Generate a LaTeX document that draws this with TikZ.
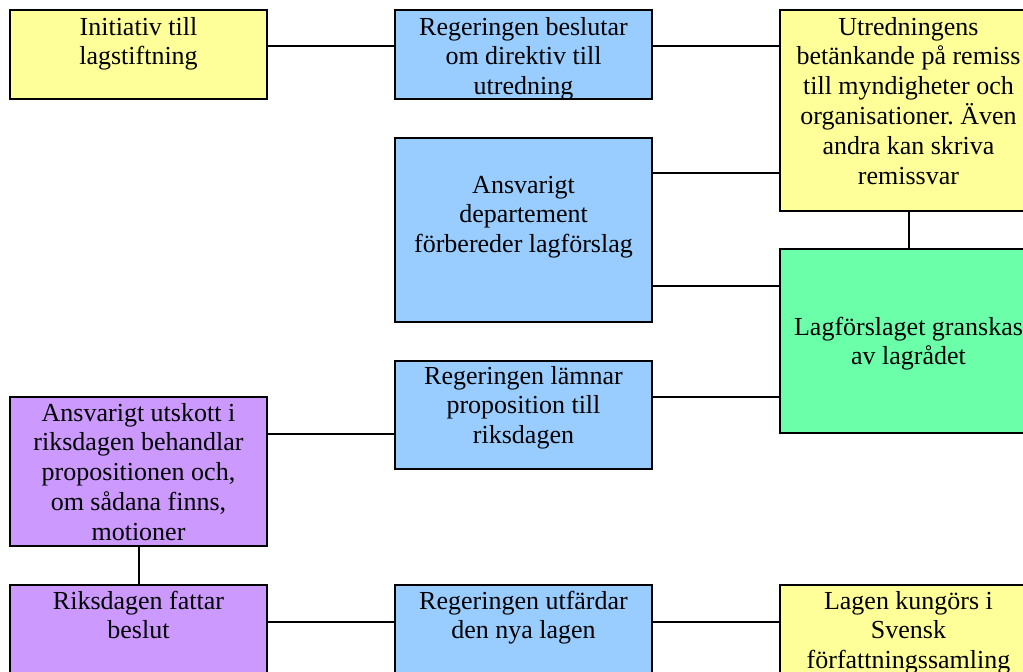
\documentclass[tikz,border=0pt]{standalone}
\usepackage{fontspec}
\setmainfont{Liberation Serif}
\frenchspacing
\definecolor{yel}{HTML}{FFFF99}
\definecolor{blu}{HTML}{99CCFF}
\definecolor{grn}{HTML}{6BFFAA}
\definecolor{pur}{HTML}{CC99FF}
\begin{document}
\begin{tikzpicture}[x=1pt,y=1pt,
  box/.style={draw=black, line width=2pt, minimum width=257pt, inner sep=0pt, rectangle},
  txt/.style={align=center, inner sep=0pt, font=\fontsize{26}{29.8}\selectfont\frenchspacing, anchor=north},
  conn/.style={draw=black, line width=2pt}]
\useasboundingbox (0,0) rectangle (1023,-672);
\clip (0,0) rectangle (1023,-672);
% boxes
\node[box, fill=yel, minimum height=89pt]  (a) at (138.5,-54.5) {};
\node[box, fill=blu, minimum height=89pt]  (b) at (523.5,-54.5) {};
\node[box, fill=yel, minimum height=201pt] (c) at (908.5,-110.5) {};
\node[box, fill=blu, minimum height=184pt] (d) at (523.5,-230) {};
\node[box, fill=grn, minimum height=184pt] (e) at (908.5,-341) {};
\node[box, fill=blu, minimum height=108pt] (f) at (523.5,-415) {};
\node[box, fill=pur, minimum height=149pt] (g) at (138.5,-471.5) {};
\node[box, fill=pur, minimum height=115pt] (h) at (138.5,-642.5) {};
\node[box, fill=blu, minimum height=115pt] (i) at (523.5,-642.5) {};
\node[box, fill=yel, minimum height=115pt] (j) at (908.5,-642.5) {};
% texts
\node[txt] (ta) at ([yshift=-5]a.north) {\strut Initiativ till\\lagstiftning};
\node[txt] (tb) at ([yshift=-5]b.north) {\strut Regeringen beslutar\\om direktiv till\\utredning};
\node[txt] (tc) at ([yshift=-5]c.north) {\strut Utredningens\\betänkande på remiss\\till myndigheter och\\organisationer. Även\\andra kan skriva\\remissvar};
\node[txt] (td) at ([yshift=-35]d.north) {\strut Ansvarigt\\departement\\förbereder lagförslag};
\node[txt] (te) at ([yshift=-66]e.north) {\strut Lagförslaget granskas\\av lagrådet};
\node[txt] (tf) at ([yshift=-3]f.north) {\strut Regeringen lämnar\\proposition till\\riksdagen};
\node[txt] (tg) at ([yshift=-4]g.north) {\strut Ansvarigt utskott i\\riksdagen behandlar\\propositionen och,\\om sådana finns,\\motioner};
\node[txt] (th) at ([yshift=-4]h.north) {\strut Riksdagen fattar\\beslut};
\node[txt] (ti) at ([yshift=-4]i.north) {\strut Regeringen utfärdar\\den nya lagen};
\node[txt] (tj) at ([yshift=-4]j.north) {\strut Lagen kungörs i\\Svensk\\författningssamling};
% connectors
\draw[conn] ([yshift=8.5]a.east) -- ([yshift=8.5]b.west);
\draw[conn] ([yshift=8.5]b.east) -- ([yshift=8.5]b.east -| c.west);
\draw[conn] ([yshift=57]d.east) -- ([yshift=57]d.east -| c.west);
\draw[conn] (c.south) -- (e.north);
\draw[conn] ([yshift=-56]d.east) -- ([yshift=-56]d.east -| e.west);
\draw[conn] ([yshift=18]f.east) -- ([yshift=18]f.east -| e.west);
\draw[conn] ([yshift=-19]f.west) -- ([yshift=-19]f.west -| g.east);
\draw[conn] (g.south) -- (h.north);
\draw[conn] ([yshift=20.5]h.east) -- ([yshift=20.5]i.west);
\draw[conn] ([yshift=20.5]i.east) -- ([yshift=20.5]j.west);
\end{tikzpicture}
\end{document}
